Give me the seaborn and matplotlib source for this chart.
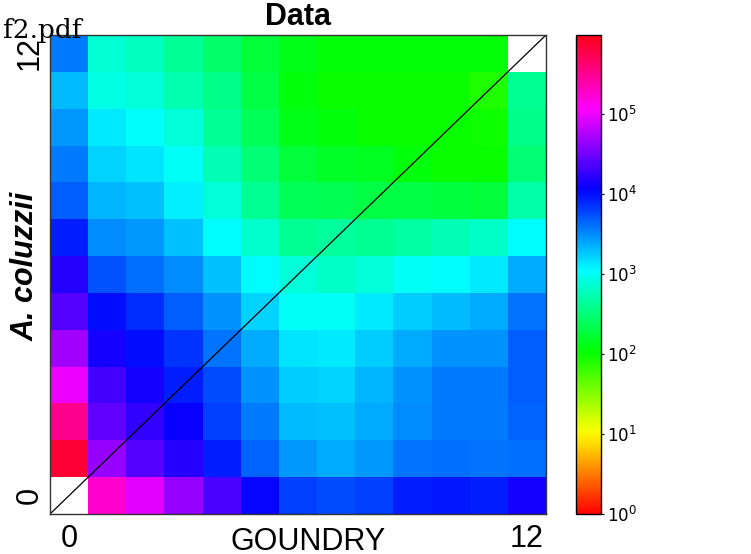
import numpy as np
import pandas as pd
import seaborn as sns
import matplotlib
matplotlib.use("Agg")
import matplotlib.pyplot as plt
from matplotlib.colors import LogNorm

nan = np.nan
# counts per row (row 0 = bottom, A. coluzzii), columns = GOUNDRY 0..12
row_00 = [nan, 178000, 87000, 42700, 21900, 11500, 6460, 5620, 6460, 8710, 9330, 8710, 13200]
row_01 = [741000, 42700, 24000, 15500, 8710, 4570, 2750, 2340, 2750, 3890, 4170, 3890, 4170]
row_02 = [316000, 27500, 17800, 12300, 6460, 3630, 2040, 1910, 2340, 3160, 3630, 3630, 4570]
row_03 = [100000, 20400, 13200, 8710, 5620, 2950, 1780, 1660, 2190, 2950, 3630, 3630, 4900]
row_04 = [49000, 13200, 10000, 6920, 3890, 2340, 1410, 1320, 1780, 2340, 2950, 2950, 4900]
row_05 = [24000, 10000, 7410, 4900, 2950, 1660, 1000, 1000, 1320, 1780, 2040, 2340, 3890]
row_06 = [15500, 5250, 4170, 3160, 1910, 1150, 759, 661, 759, 1000, 1150, 1320, 2340]
row_07 = [8710, 3160, 2750, 1910, 1150, 708, 398, 450, 398, 470, 562, 661, 1150]
row_08 = [4900, 2190, 1910, 1230, 759, 398, 240, 224, 204, 204, 190, 178, 490]
row_09 = [3630, 1660, 1410, 1000, 562, 316, 178, 155, 145, 115, 100, 100, 316]
row_10 = [2750, 1320, 1070, 759, 427, 240, 132, 120, 100, 100, 100, 93, 363]
row_11 = [2040, 851, 759, 525, 363, 204, 115, 100, 100, 100, 100, 79, 398]
row_12 = [3600, 741, 631, 427, 282, 178, 132, 112, 112, 112, 112, 112, nan]

rows = [row_00, row_01, row_02, row_03, row_04, row_05, row_06,
        row_07, row_08, row_09, row_10, row_11, row_12]
bins = list(range(13))
tick_pos_labels = ["0", "12"]
title = "Data"
xlabel = "GOUNDRY"
ylabel = "A. coluzzii"

df = pd.DataFrame(rows, index=bins, columns=bins)

sns.set_style("white")
plt.rcParams["font.family"] = ["Liberation Sans", "DejaVu Sans"]
for k in ["text.color", "axes.labelcolor", "xtick.color", "ytick.color"]:
    plt.rcParams[k] = "black"

W, H = 751, 554
fig = plt.figure(figsize=(W / 100, H / 100), dpi=100)
ax = fig.add_axes([50 / W, (H - 514) / H, 496 / W, 479 / H])
cax = fig.add_axes([576 / W, (H - 514) / H, 25 / W, 479 / H])

norm = LogNorm(vmin=1, vmax=9.7e5)
sns.heatmap(df, ax=ax, cmap="hsv", norm=norm, cbar_ax=cax,
            xticklabels=False, yticklabels=False, square=False)
ax.set_ylim(0, 13)
ax.set_xlim(0, 13)
ax.plot([0, 13], [0, 13], color="black", lw=0.9)

for sp in ax.spines.values():
    sp.set_visible(True)
    sp.set_color("#333333")
    sp.set_linewidth(1.0)

ax.set_xticks([0.5, 12.5])
ax.set_xticklabels(tick_pos_labels, fontsize=22, color="black")
ax.set_yticks([0.5, 12.5])
ax.set_yticklabels(tick_pos_labels, fontsize=22, rotation=90, va="center", color="black")
ax.tick_params(axis="x", length=0, pad=7)
ax.tick_params(axis="y", length=0, pad=4)

ax.set_title(title, fontsize=22, fontweight="bold", pad=7, color="black")
ax.set_xlabel(xlabel, fontsize=22, color="black")
ax.xaxis.set_label_coords(0.52, -0.027)
ax.set_ylabel(ylabel, fontsize=22, fontweight="bold", fontstyle="italic", color="black")
ax.yaxis.set_label_coords(-0.018, 0.518)

cbar = ax.collections[0].colorbar
cbar.ax.minorticks_off()
cbar.ax.tick_params(labelsize=12, length=2.5, width=0.8, pad=2, colors="black")
cbar.outline.set_edgecolor("black")
cbar.outline.set_linewidth(1.0)
for t in cbar.ax.get_yticklabels():
    t.set_family("DejaVu Sans")
    t.set_color("black")

fig.text(3 / W, 1 - 38 / H, "f2.pdf", family="DejaVu Serif", fontsize=19,
         va="baseline", ha="left", color="black")

fig.savefig("out.png", dpi=100)
